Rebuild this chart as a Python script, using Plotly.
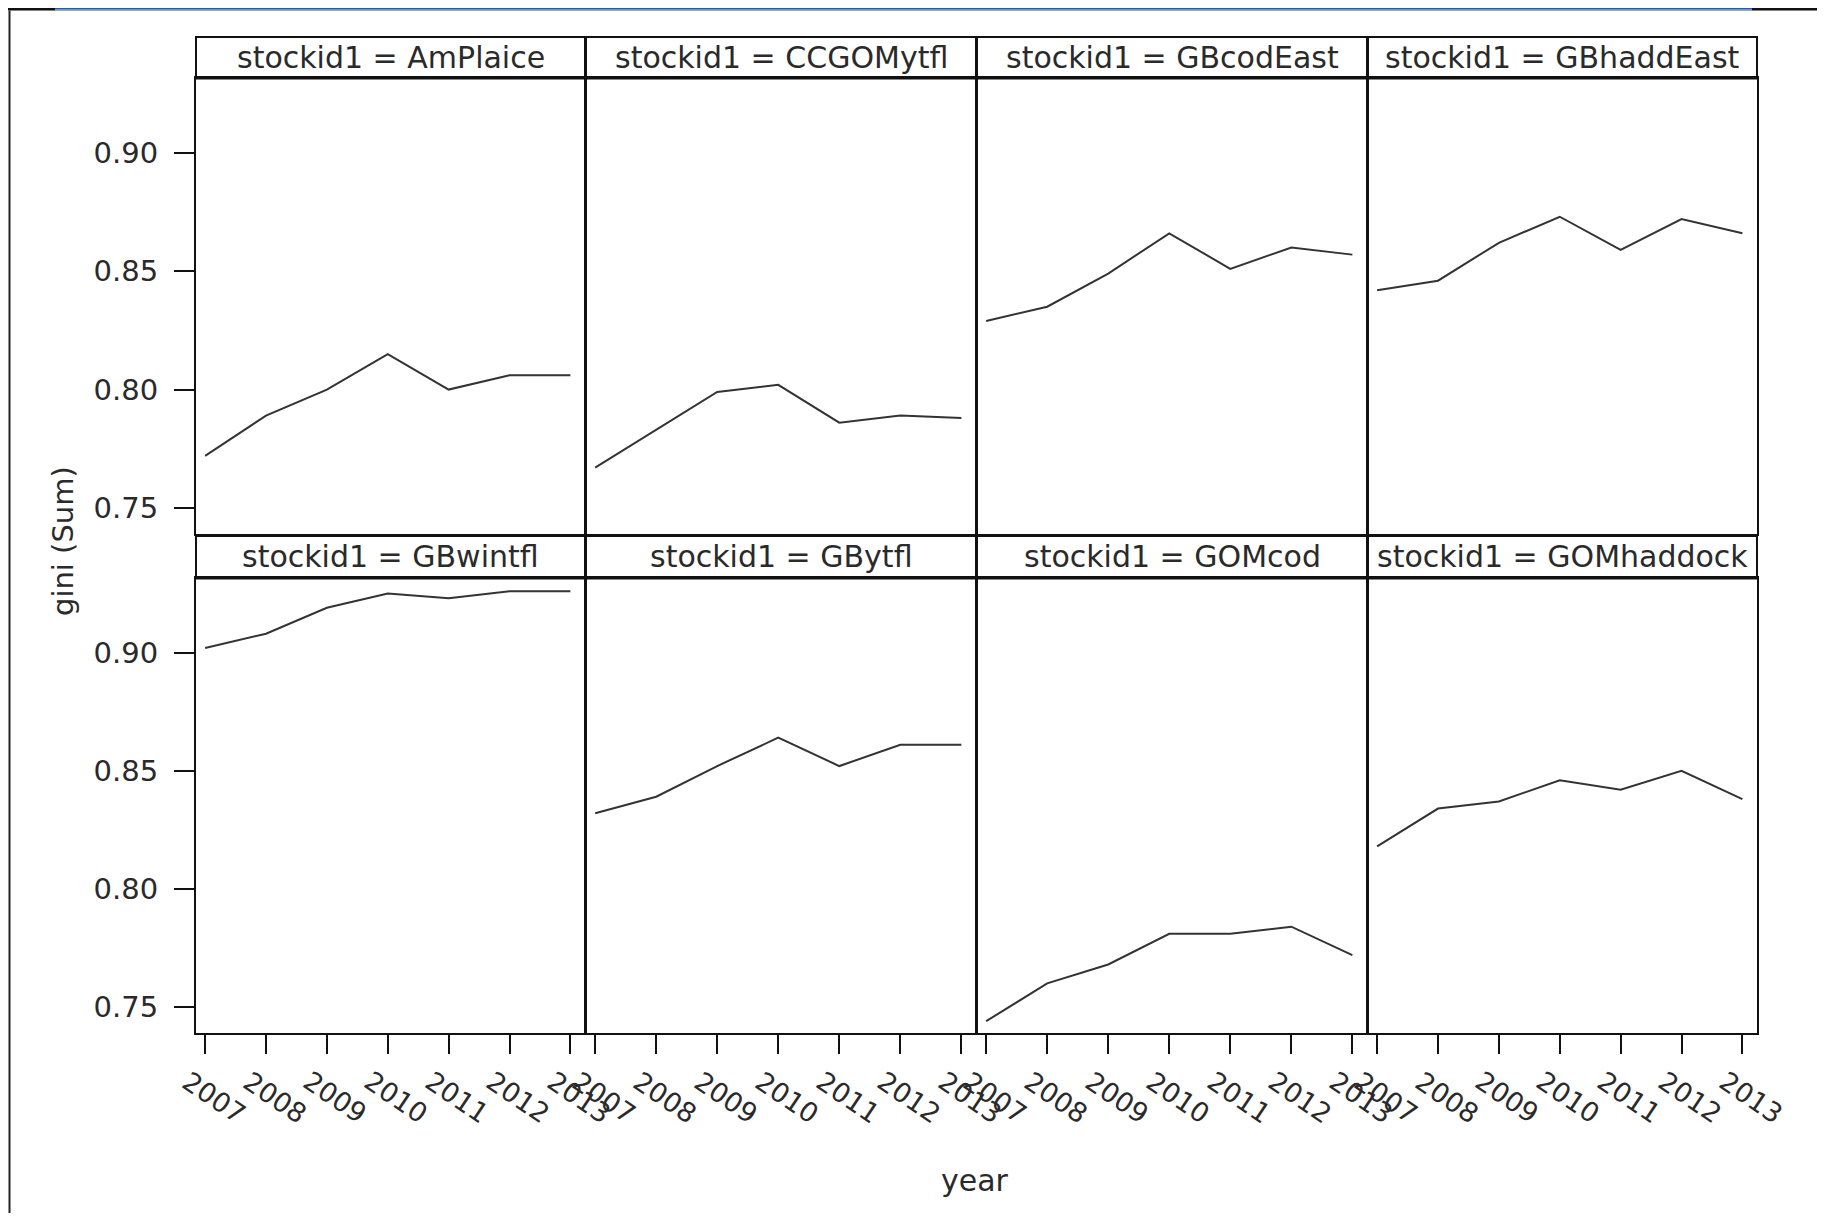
import plotly.graph_objects as go

# target canvas (screen pixels) and the figure size inside the 8px body margin
SW, SH = 1825, 1221
OFF = 8
W, H = SW - 2 * OFF, SH - 2 * OFF

years = [2007, 2008, 2009, 2010, 2011, 2012, 2013]
year_labels = ["2007", "2008", "2009", "2010", "2011", "2012", "2013"]
stocks = ["AmPlaice", "CCGOMytfl", "GBcodEast", "GBhaddEast",
          "GBwintfl", "GBytfl", "GOMcod", "GOMhaddock"]

amplaice   = [0.772, 0.789, 0.800, 0.815, 0.800, 0.806, 0.806]
ccgomytfl  = [0.767, 0.783, 0.799, 0.802, 0.786, 0.789, 0.788]
gbcodeast  = [0.829, 0.835, 0.849, 0.866, 0.851, 0.860, 0.857]
gbhaddeast = [0.842, 0.846, 0.862, 0.873, 0.859, 0.872, 0.866]
gbwintfl   = [0.902, 0.908, 0.919, 0.925, 0.923, 0.926, 0.926]
gbytfl     = [0.832, 0.839, 0.852, 0.864, 0.852, 0.861, 0.861]
gomcod     = [0.744, 0.760, 0.768, 0.781, 0.781, 0.784, 0.772]
gomhaddock = [0.818, 0.834, 0.837, 0.846, 0.842, 0.850, 0.838]

series = [amplaice, ccgomytfl, gbcodeast, gbhaddeast,
          gbwintfl, gbytfl, gomcod, gomhaddock]

y_ticks = [0.75, 0.80, 0.85, 0.90]
y_ticktext = ["0.75", "0.80", "0.85", "0.90"]

# layout geometry (screen pixels)
col_x = [(196, 585), (586, 976), (977, 1367), (1368, 1757)]
rows = [  # header top, header bottom/plot top, plot bottom
    (37, 78, 534),
    (536, 578, 1033),
]
YR = [0.739, 0.9316]
XR = [2006.85, 2013.24]

FONT = "DejaVu Sans"
TXT = "#2a2a2a"
LINE = "#111111"

fig = go.Figure()
shapes = []
annotations = []


def px(x):
    return (x - OFF) / W


def py(y):
    return 1 - (y - OFF) / H


for i, (name, vals) in enumerate(zip(stocks, series)):
    r, c = divmod(i, 4)
    n = i + 1
    xa = "x" if n == 1 else f"x{n}"
    ya = "y" if n == 1 else f"y{n}"
    fig.add_trace(go.Scatter(
        x=years, y=vals, mode="lines", xaxis=xa, yaxis=ya,
        line=dict(color="#333333", width=2), showlegend=False,
        hoverinfo="x+y"))
    x0, x1 = col_x[c]
    ht, hb, pb = rows[r]
    xkey = "xaxis" if n == 1 else f"xaxis{n}"
    ykey = "yaxis" if n == 1 else f"yaxis{n}"
    bottom = (r == 1)
    left = (c == 0)
    fig.layout[xkey] = dict(
        domain=[px(x0), px(x1)], anchor=ya, range=XR,
        showline=True, mirror=True, linecolor=LINE, linewidth=2,
        showgrid=False, zeroline=False,
        tickmode="array", tickvals=years if bottom else [],
        ticks="outside" if bottom else "", ticklen=19, tickwidth=2,
        tickcolor=LINE, showticklabels=False, fixedrange=True,
    )
    fig.layout[ykey] = dict(
        domain=[py(pb), py(hb)], anchor=xa, range=YR,
        showline=True, mirror=True, linecolor=LINE, linewidth=2,
        showgrid=False, zeroline=False,
        tickmode="array", tickvals=y_ticks if left else [],
        ticktext=y_ticktext if left else [],
        ticks="outside" if left else "", ticklen=20, tickwidth=2,
        tickcolor=LINE, ticklabelstandoff=10,
        tickfont=dict(family=FONT, size=29, color=TXT),
        showticklabels=left, fixedrange=True,
    )
    # rotated year labels under the bottom row (placed on the axis scale)
    if bottom:
        for yv, lab in zip(years, year_labels):
            annotations.append(dict(
                text=lab, xref=xa, yref="paper", x=yv, y=py(1097),
                xshift=9, textangle=34, xanchor="center", yanchor="middle",
                showarrow=False, font=dict(family=FONT, size=27, color=TXT)))
    # header strip
    shapes.append(dict(type="rect", xref="paper", yref="paper",
                       x0=px(x0), x1=px(x1), y0=py(hb), y1=py(ht),
                       line=dict(color=LINE, width=2), fillcolor="white",
                       layer="below"))
    shapes.append(dict(type="line", xref="paper", yref="paper",
                       x0=px(x0), x1=px(x1), y0=py(hb), y1=py(hb),
                       line=dict(color=LINE, width=3)))
    annotations.append(dict(
        text=f"stockid1 = {name}", xref="paper", yref="paper",
        x=px((x0 + x1) / 2), y=py((ht + hb) / 2),
        xanchor="center", yanchor="middle", showarrow=False,
        font=dict(family=FONT, size=30, color=TXT)))

# axis titles
annotations.append(dict(text="gini (Sum)", xref="paper", yref="paper",
                        x=px(63), y=py(541), textangle=-90,
                        xanchor="center", yanchor="middle", showarrow=False,
                        font=dict(family=FONT, size=29, color=TXT)))
annotations.append(dict(text="year", xref="paper", yref="paper",
                        x=px(975), y=py(1180),
                        xanchor="center", yanchor="middle", showarrow=False,
                        font=dict(family=FONT, size=30, color=TXT)))

# outer frame of the image
shapes.append(dict(type="line", xref="paper", yref="paper",
                   x0=px(9.5), x1=px(9.5), y0=0, y1=py(9),
                   line=dict(color="#222222", width=2)))
shapes.append(dict(type="line", xref="paper", yref="paper",
                   x0=0, x1=1, y0=py(10), y1=py(10),
                   line=dict(color="#888888", width=1.5)))
shapes.append(dict(type="line", xref="paper", yref="paper",
                   x0=0, x1=px(55), y0=py(9), y1=py(9),
                   line=dict(color="#111111", width=2.5)))
shapes.append(dict(type="line", xref="paper", yref="paper",
                   x0=px(1752), x1=1, y0=py(9), y1=py(9),
                   line=dict(color="#111111", width=2.5)))
shapes.append(dict(type="line", xref="paper", yref="paper",
                   x0=px(55), x1=px(1752), y0=py(8.5), y1=py(8.5),
                   line=dict(color="#1f5fa8", width=1.5)))

fig.update_layout(
    width=W, height=H, autosize=False,
    margin=dict(l=0, r=0, t=0, b=0),
    paper_bgcolor="white", plot_bgcolor="white",
    shapes=shapes, annotations=annotations,
    font=dict(family=FONT, color=TXT),
)

fig.write_html("out.html", config={"responsive": False})
